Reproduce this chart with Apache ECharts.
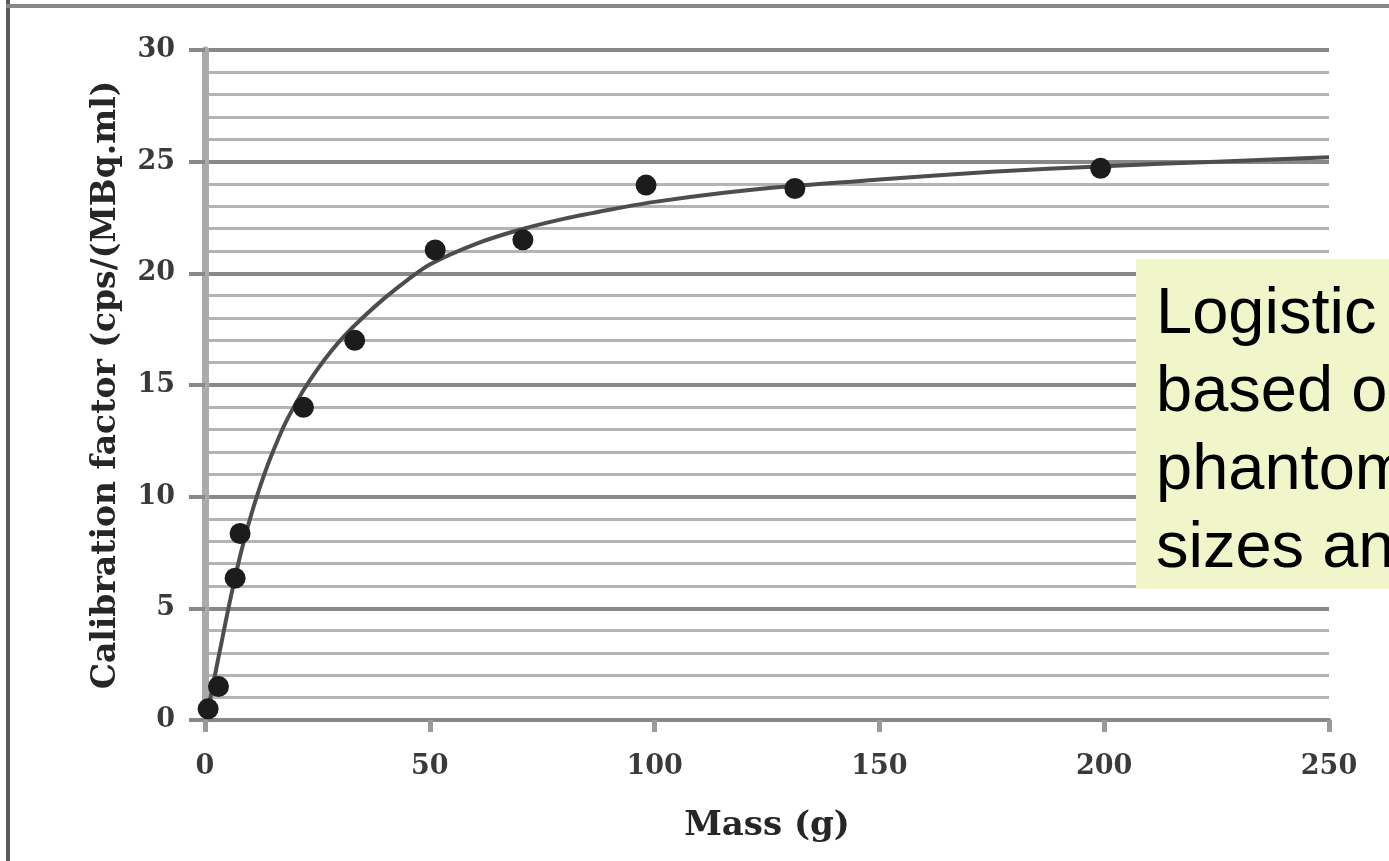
<!DOCTYPE html>
<html>
<head>
<meta charset="utf-8">
<title>Calibration factor vs mass</title>
<script src="https://cdn.jsdelivr.net/npm/echarts@6/dist/echarts.min.js"></script>
<style>
  html, body { margin: 0; padding: 0; background: #ffffff; }
  #chart { width: 1389px; height: 861px; }
</style>
</head>
<body>
<div id="chart"></div>
<script>
// Measured calibration factors for phantoms of different mass
const massMeasured = [0.7, 3.0, 6.7, 7.8, 21.9, 33.3, 51.2, 70.7, 98.1, 131.2, 199.2];
const factorMeasured = [0.5, 1.5, 6.35, 8.35, 14.0, 17.0, 21.05, 21.5, 23.95, 23.8, 24.7];

// Fitted logistic curve, sampled along the mass axis
const massFit = [0.4, 1, 2, 3, 4, 5, 6, 7, 8, 10, 12, 14, 16, 18, 20, 22, 25, 28, 31, 35, 40, 45, 50, 60, 70, 80, 90, 100, 115, 130, 150, 175, 200, 225, 250];
const factorFit = [0.3, 0.8, 1.8, 2.8, 3.8, 4.8, 5.75, 6.65, 7.5, 9.0, 10.3, 11.45, 12.45, 13.35, 14.1, 14.8, 15.7, 16.5, 17.2, 18.0, 18.9, 19.7, 20.4, 21.3, 21.95, 22.45, 22.85, 23.2, 23.6, 23.9, 24.2, 24.55, 24.8, 25.0, 25.2];

// Axis ranges
const massRange = [0, 250, 50];
const factorRange = [0, 30, 5];

// Text of the note box, one entry per line
const noteLines = ['Logistic regression', 'based on', 'phantom', 'sizes and'];

const axisFont = 'DejaVu Serif';

const chart = echarts.init(document.getElementById('chart'), null, { renderer: 'canvas' });

const pair = (xs, ys) => xs.map((x, i) => [x, ys[i]]);

chart.setOption({
  backgroundColor: '#ffffff',
  animation: false,
  grid: { left: 205, right: 60, top: 50, bottom: 141, containLabel: false },
  xAxis: {
    type: 'value',
    min: massRange[0], max: massRange[1], interval: massRange[2],
    name: 'Mass (g)',
    nameLocation: 'middle',
    nameGap: 89,
    nameTextStyle: { fontFamily: axisFont, fontWeight: 'bold', fontSize: 34, color: '#262626' },
    axisLine: { show: true, onZero: false, lineStyle: { color: '#888888', width: 4 } },
    axisTick: { show: true, length: 12, lineStyle: { color: '#9a9a9a', width: 5 } },
    axisLabel: { margin: 33, fontFamily: axisFont, fontWeight: 'bold', fontSize: 27, color: '#3a3a3a' },
    splitLine: { show: false }
  },
  yAxis: {
    type: 'value',
    min: factorRange[0], max: factorRange[1], interval: factorRange[2],
    name: 'Calibration factor (cps/(MBq.ml)',
    nameLocation: 'middle',
    nameGap: 82,
    nameTextStyle: { fontFamily: axisFont, fontWeight: 'bold', fontSize: 33, color: '#262626' },
    axisLine: { show: true, onZero: false, lineStyle: { color: '#aaaaaa', width: 7 } },
    axisTick: { show: true, length: 16, lineStyle: { color: '#888888', width: 4 } },
    axisLabel: { margin: 30, fontFamily: axisFont, fontWeight: 'bold', fontSize: 27, color: '#3a3a3a' },
    splitLine: { show: true, lineStyle: { color: '#888888', width: 4 } },
    minorTick: { show: false, splitNumber: 5 },
    minorSplitLine: { show: true, lineStyle: { color: '#b4b4b4', width: 3 } }
  },
  series: [
    {
      type: 'line',
      data: pair(massFit, factorFit),
      smooth: 0.3,
      showSymbol: false,
      lineStyle: { color: '#4d4d4d', width: 4 },
      z: 3
    },
    {
      type: 'scatter',
      data: pair(massMeasured, factorMeasured),
      symbol: 'circle',
      symbolSize: 21,
      itemStyle: { color: '#1c1c1c', opacity: 1 },
      z: 4
    }
  ],
  graphic: [
    // page frame: left and top edges
    { type: 'rect', left: 6, top: 0, z: 100, shape: { width: 4, height: 861 }, style: { fill: '#595959' } },
    { type: 'rect', left: 6, top: 4, z: 100, shape: { width: 1383, height: 4 }, style: { fill: '#888888' } },
    // note box
    {
      type: 'rect', z: 100,
      shape: { x: 1136, y: 259, width: 300, height: 330 },
      style: { fill: '#f1f6ca' }
    },
    {
      type: 'text', z: 101, x: 1156, y: 276,
      style: {
        text: noteLines.join('\n'),
        font: '65px "Liberation Sans", Arial, sans-serif',
        lineHeight: 78,
        fill: '#000000'
      }
    }
  ]
});
</script>
</body>
</html>
